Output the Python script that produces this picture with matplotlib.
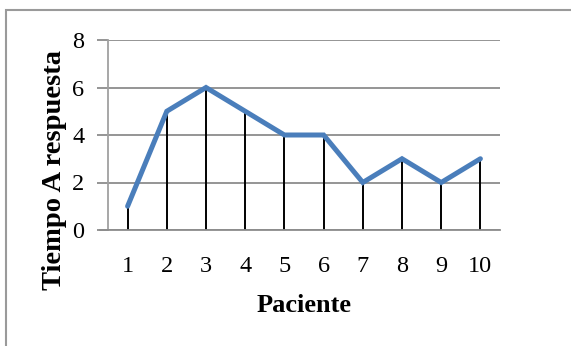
import matplotlib
matplotlib.use("Agg")
import matplotlib.pyplot as plt
from matplotlib.patches import Rectangle

pacientes = [1, 2, 3, 4, 5, 6, 7, 8, 9, 10]
tiempo = [1, 5, 6, 5, 4, 4, 2, 3, 2, 3]
yticks = [0, 2, 4, 6, 8]

W, H = 571, 346
SERIF = ["Liberation Serif", "DejaVu Serif"]
BLUE = "#4a7ebb"
GRID = "#8c8c8c"

fig = plt.figure(figsize=(W / 100, H / 100), dpi=100)
# outer chart frame (right/bottom run off the picture)
fig.patches.append(Rectangle((6 / W, -0.1), 1.2, 1 - 10 / H + 0.1, transform=fig.transFigure,
                             facecolor="none", edgecolor="#9a9a9a", linewidth=1.5))

ax = fig.add_axes([108 / W, 1 - 230 / H, 392 / W, 190 / H])
ax.set_xlim(0.5, 10.5)
ax.set_ylim(0, 8)

ax.vlines(pacientes, 0, tiempo, colors="black", linewidth=1.4, zorder=2)
ax.plot(pacientes, tiempo, color=BLUE, linewidth=3.6, solid_capstyle="round",
        solid_joinstyle="miter", zorder=3)

ax.set_yticks(yticks)
ax.set_yticklabels([str(v) for v in yticks], family=SERIF, fontsize=17.5)
ax.set_xticks(pacientes)
ax.set_xticklabels([str(v) for v in pacientes], family=SERIF, fontsize=17.5)
ax.yaxis.grid(True, color=GRID, linewidth=1.3)
ax.set_axisbelow(True)
ax.tick_params(axis="y", length=8, width=1.3, color=GRID, pad=9)
ax.tick_params(axis="x", length=0, pad=19)
for s in ["top", "right"]:
    ax.spines[s].set_visible(False)
ax.spines["left"].set_color("#a0a0a0")
ax.spines["left"].set_linewidth(1.3)
ax.spines["bottom"].set_color(GRID)
ax.spines["bottom"].set_linewidth(1.3)
ax.spines["bottom"].set_bounds(0.3, 10.5)

ax.set_xlabel("Paciente", family=SERIF, fontsize=19, fontweight="bold", labelpad=12)
ax.set_ylabel("Tiempo A respuesta", family=SERIF, fontsize=20.5, fontweight="bold")
# Excel puts the axis title lower than the plot-area centre
ax.yaxis.set_label_coords(-0.104, 0.316)

fig.savefig("out.png", dpi=100)
